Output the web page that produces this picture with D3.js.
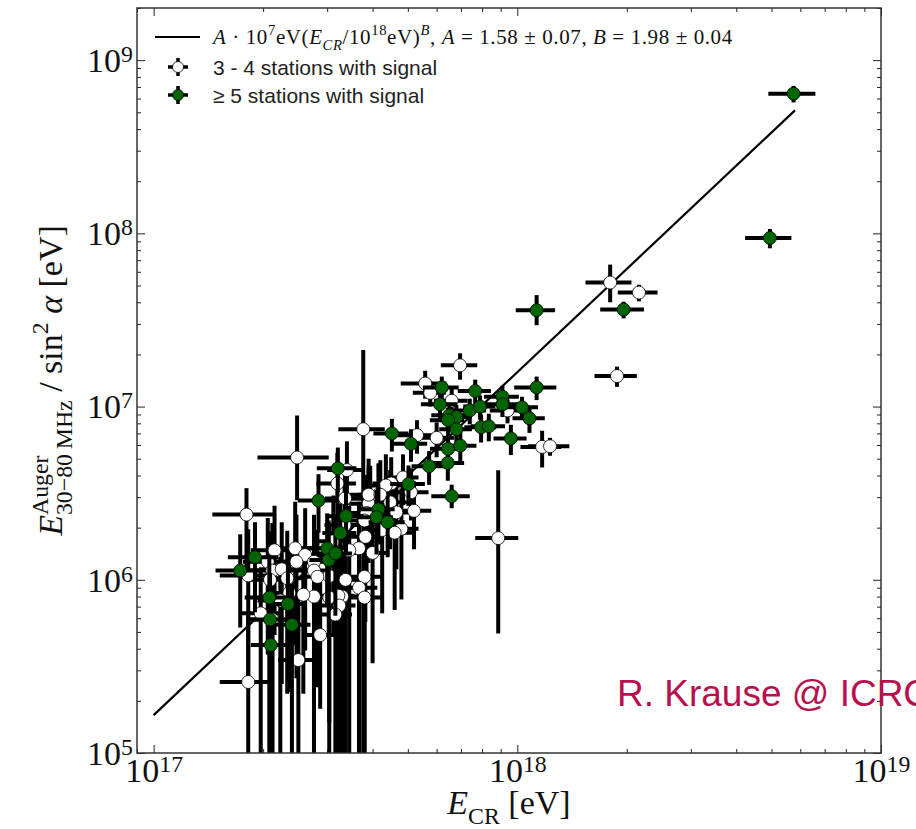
<!DOCTYPE html>
<html>
<head>
<meta charset="utf-8">
<script src="https://cdn.jsdelivr.net/npm/d3@7"></script>
<style>
  body { margin: 0; background: #fff; }
</style>
</head>
<body>
<div id="chart"></div>
<script>
// radio energy vs cosmic-ray energy
// rows: [E_CR, E_radio, xErr, yErrLow, yErrHigh]  (eV)
var fewStations = [
  [1.80e18, 5.2e7, 0.26e18, 1.2e7, 1.4e7],
  [2.16e18, 4.55e7, 0.27e18, 0.5e7, 0.5e7],
  [1.88e18, 1.5e7, 0.25e18, 0.2e7, 0.2e7],
  [1.17e18, 5.85e6, 0.15e18, 1.4e6, 1.4e6],
  [1.23e18, 5.9e6, 0.16e18, 0.7e6, 0.7e6],
  [8.86e17, 1.74e6, 1.2e17, 1.25e6, 2.55e6],
  [6.96e17, 1.73e7, 0.8e17, 3e6, 3e6],
  [5.58e17, 1.36e7, 0.8e17, 2.5e6, 2.5e6],
  [5.76e17, 1.2e7, 0.6e17, 2e6, 2e6],
  [6.6e17, 1.08e7, 0.7e17, 2e6, 2e6],
  [9.4e17, 9.5e6, 1.0e17, 1.5e6, 1.5e6],
  [6.0e17, 6.6e6, 0.7e17, 1.5e6, 1.5e6],
  [5.3e17, 6.84e6, 0.6e17, 1.5e6, 1.5e6],
  [3.77e17, 7.4e6, 0.55e17, 7.4e6, 1.38e7],
  [2.48e17, 5.08e6, 0.55e17, 2.2e6, 3.8e6],
  [3.2e17, 3.6e6, 0.4e17, 1.5e6, 1.8e6],
  [3.36e17, 2.95e6, 0.4e17, 1.2e6, 1.5e6],
  [5.1e17, 3.2e6, 0.6e17, 1.0e6, 1.2e6],
  [5.2e17, 2.5e6, 0.6e17, 1.0e6, 1.2e6],
  [4.85e17, 3.9e6, 0.5e17, 1.2e6, 1.4e6],
  [3.4e17, 4.3e6, 0.4e17, 1.6e6, 2.0e6],
  [4.5e17, 3.6e6, 0.5e17, 1.2e6, 1.5e6],
  [4.35e17, 3.5e6, 0.5e17, 1.5e6, 1.8e6],
  [4.15e17, 3.1e6, 0.5e17, 1.4e6, 1.6e6],
  [3.94e17, 2.95e6, 0.45e17, 1.4e6, 1.6e6],
  [4.47e17, 2.8e6, 0.5e17, 1.3e6, 1.5e6],
  [3.9e17, 2.75e6, 0.45e17, 1.5e6, 1.7e6],
  [3.85e17, 2.43e6, 0.45e17, 1.4e6, 1.6e6],
  [4.65e17, 2.45e6, 0.55e17, 1.3e6, 1.5e6],
  [4.8e17, 1.97e6, 0.55e17, 1.2e6, 1.4e6],
  [4.6e17, 1.87e6, 0.55e17, 1.2e6, 1.4e6],
  [3.82e17, 1.77e6, 0.45e17, 1.2e6, 1.4e6],
  [4.25e17, 1.94e6, 0.5e17, 1.3e6, 1.5e6],
  [3.9e17, 3.1e6, 0.45e17, 1.6e6, 1.9e6],
  [4.2e17, 3.1e6, 0.5e17, 1.5e6, 1.8e6],
  [3.67e17, 1.52e6, 0.45e17, 1.1e6, 1.3e6],
  [4.0e17, 1.43e6, 0.45e17, 1.1e6, 1.3e6],
  [3.8e17, 2.2e6, 0.45e17, 1.5e6, 1.7e6],
  [3.35e17, 2.07e6, 0.4e17, 1.4e6, 1.6e6],
  [3.45e17, 1.48e6, 0.4e17, 1.48e6, 1.2e6],
  [3.3e17, 8.0e5, 0.4e17, 8.0e5, 0.8e6],
  [3.8e17, 1.04e6, 0.45e17, 1.04e6, 1.0e6],
  [3.37e17, 1.0e6, 0.4e17, 1.0e6, 1.0e6],
  [3.04e17, 1.05e6, 0.35e17, 0.9e6, 1.0e6],
  [3.12e17, 1.67e6, 0.35e17, 1.2e6, 1.4e6],
  [1.8e17, 2.38e6, 0.35e17, 1.3e6, 1.0e6],
  [2.15e17, 1.48e6, 0.3e17, 1.0e6, 1.2e6],
  [2.45e17, 1.52e6, 0.3e17, 1.1e6, 1.3e6],
  [2.61e17, 1.39e6, 0.3e17, 1.0e6, 1.2e6],
  [2.76e17, 1.27e6, 0.3e17, 1.27e6, 1.1e6],
  [2.47e17, 1.27e6, 0.3e17, 1.0e6, 1.1e6],
  [2.06e17, 1.27e6, 0.3e17, 0.9e6, 1.0e6],
  [2.12e17, 1.13e6, 0.3e17, 1.13e6, 1.0e6],
  [2.25e17, 1.15e6, 0.3e17, 0.9e6, 1.0e6],
  [2.33e17, 1.02e6, 0.3e17, 0.8e6, 0.9e6],
  [2.09e17, 1.0e6, 0.3e17, 1.0e6, 0.9e6],
  [2.76e17, 1.13e6, 0.3e17, 1.13e6, 1.0e6],
  [2.82e17, 1.04e6, 0.3e17, 0.8e6, 0.9e6],
  [1.82e17, 1.06e6, 0.3e17, 0.8e6, 0.9e6],
  [3.67e17, 9.0e5, 0.45e17, 9.0e5, 0.8e6],
  [3.8e17, 7.9e5, 0.45e17, 7.9e5, 0.7e6],
  [3.22e17, 8.1e5, 0.35e17, 8.1e5, 0.7e6],
  [3.04e17, 7.9e5, 0.35e17, 7.9e5, 0.7e6],
  [2.76e17, 8.0e5, 0.3e17, 8.0e5, 0.7e6],
  [2.58e17, 8.2e5, 0.3e17, 0.6e6, 0.7e6],
  [2.36e17, 8.4e5, 0.3e17, 0.6e6, 0.7e6],
  [2.23e17, 7.6e5, 0.3e17, 7.6e5, 0.6e6],
  [1.97e17, 6.4e5, 0.25e17, 6.4e5, 0.5e6],
  [2.12e17, 5.9e5, 0.3e17, 5.9e5, 0.5e6],
  [3.24e17, 7.1e5, 0.35e17, 7.1e5, 0.6e6],
  [3.16e17, 6.3e5, 0.35e17, 6.3e5, 0.5e6],
  [2.87e17, 4.8e5, 0.3e17, 3.0e5, 0.5e6],
  [2.5e17, 3.44e5, 0.3e17, 3.44e5, 0.4e6],
  [1.82e17, 2.57e5, 0.3e17, 2.57e5, 0.4e6]
];

var manyStations = [
  [5.75e18, 6.4e8, 0.85e18, 0.7e8, 0.7e8],
  [4.95e18, 9.4e7, 0.72e18, 1.2e7, 1.2e7],
  [1.96e18, 3.63e7, 0.27e18, 0.4e7, 0.4e7],
  [1.13e18, 3.6e7, 0.14e18, 0.65e7, 0.8e7],
  [1.13e18, 1.29e7, 0.15e18, 0.2e7, 0.2e7],
  [6.2e17, 1.29e7, 0.7e17, 2e6, 2e6],
  [7.66e17, 1.23e7, 0.8e17, 2e6, 2e6],
  [9.1e17, 1.14e7, 1.0e17, 1.8e6, 1.8e6],
  [6.13e17, 1.03e7, 0.7e17, 1.8e6, 1.8e6],
  [7.4e17, 9.5e6, 0.8e17, 1.6e6, 1.6e6],
  [7.9e17, 1.0e7, 0.8e17, 1.6e6, 1.6e6],
  [9.1e17, 1.03e7, 1.0e17, 1.6e6, 1.6e6],
  [1.03e18, 9.9e6, 1.1e17, 1.5e6, 1.5e6],
  [1.08e18, 8.55e6, 1.1e17, 1.5e6, 1.5e6],
  [6.5e17, 8.9e6, 0.7e17, 1.5e6, 1.5e6],
  [6.8e17, 8.7e6, 0.7e17, 1.5e6, 1.5e6],
  [6.45e17, 8.35e6, 0.7e17, 1.5e6, 1.5e6],
  [6.8e17, 7.4e6, 0.7e17, 1.4e6, 1.4e6],
  [7.95e17, 7.6e6, 0.8e17, 1.4e6, 1.4e6],
  [8.35e17, 7.7e6, 0.9e17, 1.4e6, 1.4e6],
  [9.6e17, 6.55e6, 1.0e17, 1.3e6, 1.3e6],
  [4.52e17, 7.0e6, 0.5e17, 1.5e6, 1.5e6],
  [5.1e17, 6.1e6, 0.55e17, 1.3e6, 1.3e6],
  [6.45e17, 5.7e6, 0.7e17, 1.2e6, 1.2e6],
  [6.97e17, 5.95e6, 0.75e17, 1.2e6, 1.2e6],
  [5.72e17, 4.53e6, 0.6e17, 1.0e6, 1.0e6],
  [6.44e17, 4.73e6, 0.7e17, 1.0e6, 1.0e6],
  [6.6e17, 3.04e6, 0.8e17, 0.45e6, 0.5e6],
  [3.21e17, 4.4e6, 0.4e17, 1.2e6, 1.4e6],
  [2.84e17, 2.87e6, 0.35e17, 1.0e6, 1.2e6],
  [5.02e17, 3.57e6, 0.55e17, 0.9e6, 1.0e6],
  [4.15e17, 2.55e6, 0.45e17, 0.9e6, 1.0e6],
  [4.1e17, 2.3e6, 0.45e17, 0.9e6, 1.0e6],
  [4.4e17, 2.15e6, 0.5e17, 0.8e6, 0.9e6],
  [3.38e17, 2.33e6, 0.4e17, 0.9e6, 1.0e6],
  [3.26e17, 1.86e6, 0.35e17, 0.8e6, 0.9e6],
  [3.0e17, 1.52e6, 0.35e17, 0.8e6, 0.9e6],
  [3.03e17, 1.3e6, 0.35e17, 0.8e6, 0.9e6],
  [3.16e17, 1.42e6, 0.35e17, 0.8e6, 0.9e6],
  [1.9e17, 1.35e6, 0.3e17, 0.7e6, 0.8e6],
  [1.73e17, 1.13e6, 0.25e17, 0.6e6, 0.7e6],
  [2.08e17, 7.9e5, 0.3e17, 7.9e5, 0.6e6],
  [2.34e17, 7.25e5, 0.3e17, 0.5e6, 0.5e6],
  [2.09e17, 5.9e5, 0.25e17, 5.9e5, 0.5e6],
  [2.4e17, 5.5e5, 0.3e17, 5.5e5, 0.4e6],
  [2.1e17, 4.2e5, 0.25e17, 4.2e5, 0.4e6]
];

// fit A * 1e7 eV * (E/1e18 eV)^B
var fitA = 1.58;
var fitB = 1.98;
var fitRange = [1e17, 5.8e18];

var xDomain = [9e16, 1e19];
var yDomain = [1e5, 2e9];
var xMajor = [1e17, 1e18, 1e19];
var yMajor = [1e5, 1e6, 1e7, 1e8, 1e9];

var serif = "'Liberation Serif', 'DejaVu Serif', serif";
var sans = "'Liberation Sans', Arial, sans-serif";

var svgWidth = 916;
var svgHeight = 829;
var margin = { top: 8, right: 35, bottom: 76, left: 137 };
var width = svgWidth - margin.left - margin.right;
var height = svgHeight - margin.top - margin.bottom;

var svg = d3.select("#chart").append("svg")
  .attr("width", svgWidth)
  .attr("height", svgHeight)
  .style("font-family", serif);

svg.append("defs").append("clipPath").attr("id", "clip")
  .append("rect").attr("width", width).attr("height", height);

var plot = svg.append("g")
  .attr("transform", `translate(${margin.left},${margin.top})`);

var xScale = d3.scaleLog().domain(xDomain).range([0, width]);
var yScale = d3.scaleLog().domain(yDomain).range([height, 0]);

// minor ticks 2..9 of each decade
function minorTicks(domain) {
  var out = [];
  for (var e = Math.floor(Math.log10(domain[0])); e < Math.ceil(Math.log10(domain[1])); e++) {
    for (var m = 2; m <= 9; m++) {
      var v = m * Math.pow(10, e);
      if (v >= domain[0] && v <= domain[1]) out.push(v);
    }
  }
  return out;
}
var xMinor = minorTicks(xDomain);
var yMinor = minorTicks(yDomain);

function powLabel(sel) {
  sel.each(function(d) {
    var t = d3.select(this);
    t.text("10");
    t.append("tspan")
      .attr("dy", "-0.42em")
      .attr("font-size", "0.7em")
      .text(Math.round(Math.log10(d)));
  });
}

// axes, ticks point inwards on all sides
function addAxis(axis, transform, withLabels) {
  var g = plot.append("g").attr("transform", transform).call(axis);
  g.select(".domain").remove();
  g.selectAll(".tick line").attr("stroke", "#222").attr("stroke-width", 1);
  if (withLabels) {
    g.selectAll(".tick text")
      .attr("fill", "#111")
      .attr("font-size", 34)
      .style("font-family", serif)
      .call(powLabel);
  } else {
    g.selectAll(".tick text").remove();
  }
  return g;
}

addAxis(d3.axisBottom(xScale).tickValues(xMajor).tickSize(-8).tickPadding(5), `translate(0,${height})`, true);
addAxis(d3.axisBottom(xScale).tickValues(xMinor).tickSize(-4), `translate(0,${height})`, false);
addAxis(d3.axisTop(xScale).tickValues(xMajor).tickSize(-8), "translate(0,0)", false);
addAxis(d3.axisTop(xScale).tickValues(xMinor).tickSize(-4), "translate(0,0)", false);

var yAxisG = addAxis(d3.axisLeft(yScale).tickValues(yMajor).tickSize(-8).tickPadding(4), "translate(0,0)", true);
yAxisG.selectAll(".tick text").attr("dy", "0.33em");
addAxis(d3.axisLeft(yScale).tickValues(yMinor).tickSize(-4), "translate(0,0)", false);
addAxis(d3.axisRight(yScale).tickValues(yMajor).tickSize(-8), `translate(${width},0)`, false);
addAxis(d3.axisRight(yScale).tickValues(yMinor).tickSize(-4), `translate(${width},0)`, false);

// error bars + markers
var dataG = plot.append("g").attr("clip-path", "url(#clip)");

function lowY(d) {
  var v = d[1] - d[3];
  return v > 0 ? yScale(v) : height + 20;
}

function drawSeries(rows, fill) {
  var g = dataG.append("g");
  g.selectAll(".xbar").data(rows).enter().append("line")
    .attr("x1", d => xScale(d[0] - d[2]))
    .attr("x2", d => xScale(d[0] + d[2]))
    .attr("y1", d => yScale(d[1]))
    .attr("y2", d => yScale(d[1]))
    .attr("stroke", "#000")
    .attr("stroke-width", 4);
  g.selectAll(".ybar").data(rows).enter().append("line")
    .attr("x1", d => xScale(d[0]))
    .attr("x2", d => xScale(d[0]))
    .attr("y1", d => lowY(d))
    .attr("y2", d => yScale(d[1] + d[4]))
    .attr("stroke", "#000")
    .attr("stroke-width", 4);
  g.selectAll("circle").data(rows).enter().append("circle")
    .attr("cx", d => xScale(d[0]))
    .attr("cy", d => yScale(d[1]))
    .attr("r", 6.5)
    .attr("fill", fill)
    .attr("stroke", "#000")
    .attr("stroke-width", 0.8);
}

// fit line
var fitLine = d3.line()
  .x(d => xScale(d))
  .y(d => yScale(fitA * 1e7 * Math.pow(d / 1e18, fitB)));

dataG.append("path")
  .datum(fitRange)
  .attr("d", fitLine)
  .attr("fill", "none")
  .attr("stroke", "#000")
  .attr("stroke-width", 2.2);

drawSeries(fewStations, "#fff");
drawSeries(manyStations, "#006400");

// frame
plot.append("rect")
  .attr("width", width)
  .attr("height", height)
  .attr("fill", "none")
  .attr("stroke", "#333")
  .attr("stroke-width", 1.5);

// rich text helper: parts {t, i, sup, sub, back}
function richText(textSel, parts, size) {
  var shift = 0;
  var lastLen = 0;
  parts.forEach(function(p) {
    var target = p.sup ? -0.42 * size : (p.sub ? 0.3 * size : 0);
    var ts = textSel.append("tspan")
      .attr("dy", target - shift)
      .attr("font-size", (p.sup || p.sub) ? size * 0.7 : size)
      .attr("font-style", p.i ? "italic" : "normal")
      .text(p.t);
    if (p.back) ts.attr("dx", -lastLen);
    lastLen = ts.node().getComputedTextLength();
    shift = target;
  });
}

// legend
var legend = svg.append("g");
legend.append("line")
  .attr("x1", 155).attr("x2", 200)
  .attr("y1", 37).attr("y2", 37)
  .attr("stroke", "#000").attr("stroke-width", 2.2);

richText(legend.append("text").attr("x", 213).attr("y", 44)
  .attr("fill", "#111").style("letter-spacing", "0.6px"), [
  { t: "A", i: true }, { t: " · 10" }, { t: "7", sup: true }, { t: "eV(" },
  { t: "E", i: true }, { t: "CR", sub: true, i: true }, { t: "/10" }, { t: "18", sup: true },
  { t: "eV)" }, { t: "B", sup: true, i: true }, { t: ", " }, { t: "A", i: true },
  { t: " = 1.58 ± 0.07, " }, { t: "B", i: true }, { t: " = 1.98 ± 0.04" }
], 21);

var legendItems = [
  { label: "3 - 4 stations with signal", fill: "#fff", y: 67 },
  { label: "\u2265 5 stations with signal", fill: "#006400", y: 95 }
];
legendItems.forEach(function(it) {
  legend.append("line").attr("x1", 168).attr("x2", 188).attr("y1", it.y).attr("y2", it.y)
    .attr("stroke", "#000").attr("stroke-width", 3.5);
  legend.append("line").attr("x1", 178).attr("x2", 178).attr("y1", it.y - 9).attr("y2", it.y + 9)
    .attr("stroke", "#000").attr("stroke-width", 3.5);
  legend.append("circle").attr("cx", 178).attr("cy", it.y).attr("r", 5.5)
    .attr("fill", it.fill).attr("stroke", "#000").attr("stroke-width", 0.8);
  legend.append("text").attr("x", 213).attr("y", it.y + 7.5)
    .style("font-family", sans)
    .attr("font-size", 21).attr("fill", "#222")
    .text(it.label);
});

// axis labels
richText(svg.append("text")
  .attr("x", margin.left + width / 2).attr("y", 814)
  .attr("text-anchor", "middle").attr("fill", "#111"),
  [{ t: "E", i: true }, { t: "CR", sub: true }, { t: " [eV]" }], 34);

var yLab = svg.append("text")
  .attr("transform", `translate(62,${margin.top + height / 2}) rotate(-90)`)
  .attr("text-anchor", "middle").attr("fill", "#111");
richText(yLab, [
  { t: "E", i: true }, { t: "Auger", sup: true }, { t: "30\u221280\u2009MHz", sub: true, back: true },
  { t: " / sin" }, { t: "2", sup: true }, { t: " " }, { t: "\u03b1", i: true }, { t: " [eV]" }
], 34);

// credit
svg.append("text")
  .attr("x", 617).attr("y", 706)
  .style("font-family", sans)
  .attr("font-size", 37)
  .attr("fill", "#b8104e")
  .text("R. Krause @ ICRC");
</script>
</body>
</html>
